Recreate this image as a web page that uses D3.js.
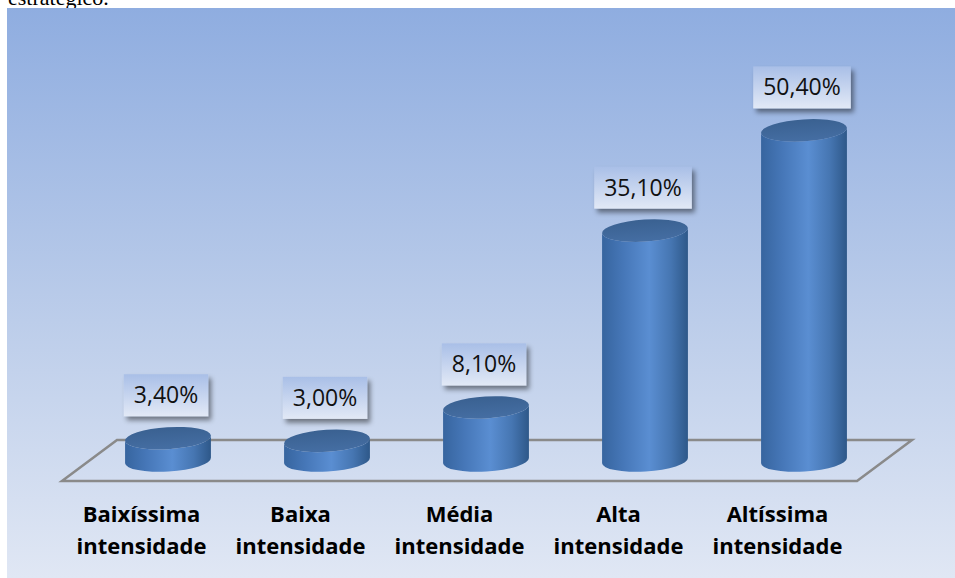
<!DOCTYPE html>
<html>
<head>
<meta charset="utf-8">
<script src="https://cdn.jsdelivr.net/npm/d3@7"></script>
<style>
  html, body { margin: 0; padding: 0; background: #ffffff; }
  svg { display: block; }
</style>
</head>
<body>
<svg id="chart" width="955" height="578"></svg>
<script>
// Intensity categories (two-line labels) and their shares in percent
const categories = ["Baixíssima intensidade", "Baixa intensidade", "Média intensidade", "Alta intensidade", "Altíssima intensidade"];
const labelLines = [["Baixíssima", "intensidade"], ["Baixa", "intensidade"], ["Média", "intensidade"], ["Alta", "intensidade"], ["Altíssima", "intensidade"]];
const values = [3.4, 3.0, 8.1, 35.1, 50.4];
const valueLabels = ["3,40%", "3,00%", "8,10%", "35,10%", "50,40%"];

(function draw() {
  const svg = d3.select("#chart");
  const defs = svg.append("defs");

  // Text line preceding the chart (paragraph text above the figure)
  svg.append("text")
    .attr("x", 8).attr("y", 5)
    .attr("font-family", "Liberation Serif, serif")
    .attr("font-size", 22)
    .attr("fill", "#000")
    .text("estratégico.");

  // Chart area background gradient
  const bg = defs.append("linearGradient").attr("id", "bg").attr("x1", 0).attr("y1", 0).attr("x2", 0).attr("y2", 1);
  bg.append("stop").attr("offset", "0%").attr("stop-color", "#8fade0");
  bg.append("stop").attr("offset", "55%").attr("stop-color", "#bccdea");
  bg.append("stop").attr("offset", "100%").attr("stop-color", "#e0e7f4");

  svg.append("rect")
    .attr("x", 7).attr("y", 8).attr("width", 948).attr("height", 570)
    .attr("fill", "url(#bg)");

  // Cylinder side shading (horizontal) and top shading
  const sideGrad = defs.append("linearGradient").attr("id", "side").attr("x1", 0).attr("y1", 0).attr("x2", 1).attr("y2", 0);
  sideGrad.append("stop").attr("offset", "0%").attr("stop-color", "#37659f");
  sideGrad.append("stop").attr("offset", "25%").attr("stop-color", "#4677b8");
  sideGrad.append("stop").attr("offset", "55%").attr("stop-color", "#5a8ed2");
  sideGrad.append("stop").attr("offset", "80%").attr("stop-color", "#4676b2");
  sideGrad.append("stop").attr("offset", "100%").attr("stop-color", "#2e5889");

  const topGrad = defs.append("linearGradient").attr("id", "topface").attr("x1", 0).attr("y1", 0).attr("x2", 0).attr("y2", 1);
  topGrad.append("stop").attr("offset", "0%").attr("stop-color", "#3a6191");
  topGrad.append("stop").attr("offset", "100%").attr("stop-color", "#456ea3");

  // Label box gradient and drop shadow
  const lbl = defs.append("linearGradient").attr("id", "lbl").attr("x1", 0).attr("y1", 0).attr("x2", 0).attr("y2", 1);
  lbl.append("stop").attr("offset", "0%").attr("stop-color", "#a9bfe7");
  lbl.append("stop").attr("offset", "100%").attr("stop-color", "#e2e9f6");

  const shadow = defs.append("filter").attr("id", "shadow")
    .attr("x", "-20%").attr("y", "-20%").attr("width", "150%").attr("height", "160%");
  shadow.append("feDropShadow")
    .attr("dx", 3).attr("dy", 4).attr("stdDeviation", 2.5)
    .attr("flood-color", "#000").attr("flood-opacity", 0.45);

  // Front edge of the floor carries the category bands; depth shifts up-right
  const x = d3.scaleBand().domain(categories).range([62, 857]);
  const frontY = 481, depthDX = 55, depthDY = -41;
  const baseY = frontY + depthDY / 2;       // cylinder base centre (mid depth)
  const y = d3.scaleLinear().domain([0, 60]).range([baseY, baseY - 60 * 6.55]);

  // Floor outline
  const floorPts = [
    [x.range()[0], frontY],
    [x.range()[1], frontY],
    [x.range()[1] + depthDX, frontY + depthDY],
    [x.range()[0] + depthDX, frontY + depthDY]
  ];
  svg.append("path")
    .attr("d", d3.line()(floorPts) + "Z")
    .attr("fill", "none")
    .attr("stroke", "#8a8a8a")
    .attr("stroke-width", 2.5);

  // Cylinders
  const rx = 43, ry = 11, tilt = -3.5;
  const th = tilt * Math.PI / 180;
  const ex = rx * Math.cos(th), ey = rx * Math.sin(th);
  const cxOf = c => x(c) + x.bandwidth() / 2 + depthDX / 2 - 1;

  const bars = svg.append("g").selectAll("g").data(categories).join("g");

  bars.append("path")
    .attr("d", (c, i) => {
      const cx = cxOf(c), ty = y(values[i]), by = y(0);
      return `M${cx - ex},${ty - ey} L${cx - ex},${by - ey} ` +
             `A${rx},${ry} ${tilt} 0 0 ${cx + ex},${by + ey} ` +
             `L${cx + ex},${ty + ey} A${rx},${ry} ${tilt} 0 1 ${cx - ex},${ty - ey} Z`;
    })
    .attr("fill", "url(#side)");

  bars.append("ellipse")
    .attr("cx", c => cxOf(c))
    .attr("cy", (c, i) => y(values[i]))
    .attr("rx", rx).attr("ry", ry)
    .attr("transform", (c, i) => `rotate(${tilt},${cxOf(c)},${y(values[i])})`)
    .attr("fill", "url(#topface)");

  // Value label boxes above each cylinder
  const boxH = 42;
  bars.each(function (c, i) {
    const g = d3.select(this);
    const cx = cxOf(c) - 2;
    const boxBottom = y(values[i]) - ry - 11;
    const t = g.append("text")
      .attr("x", cx).attr("y", boxBottom - 13)
      .attr("text-anchor", "middle")
      .attr("font-family", "Open Sans, sans-serif")
      .attr("font-size", 23)
      .attr("fill", "#111")
      .text(valueLabels[i]);
    const w = t.node().getComputedTextLength() + 20;
    g.insert("rect", "text")
      .attr("x", cx - w / 2).attr("y", boxBottom - boxH)
      .attr("width", w).attr("height", boxH)
      .attr("fill", "url(#lbl)")
      .attr("filter", "url(#shadow)");
  });

  // Category labels below the floor
  const cat = svg.append("g").selectAll("text").data(categories).join("text")
    .attr("x", c => x(c) + x.bandwidth() / 2)
    .attr("y", 522)
    .attr("text-anchor", "middle")
    .attr("font-family", "Open Sans, sans-serif")
    .attr("font-weight", "bold")
    .attr("font-size", 22)
    .attr("fill", "#000");
  cat.selectAll("tspan").data((c, i) => labelLines[i]).join("tspan")
    .attr("x", function () { return d3.select(this.parentNode).attr("x"); })
    .attr("dy", (d, j) => j === 0 ? 0 : 32)
    .text(d => d);
})();
</script>
</body>
</html>
